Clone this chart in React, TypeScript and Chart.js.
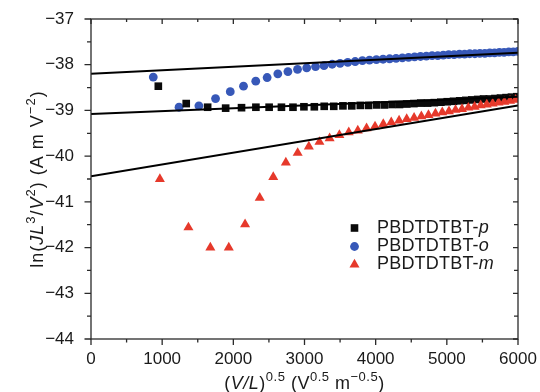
import React, { useEffect, useRef } from 'react';
import { Chart, registerables } from 'chart.js';

Chart.register(...registerables);

const FONT = '"Liberation Sans", Arial, Helvetica, sans-serif';

// PBDTDTBT-p (black squares)
const pX = [946, 1338, 1639, 1892, 2115, 2317, 2503, 2676, 2838, 2992, 3138, 3277, 3411, 3540, 3664, 3784, 3900, 4014, 4124, 4231, 4335, 4437, 4537, 4634, 4730, 4824, 4916, 5006, 5094, 5181, 5267, 5351, 5434, 5516, 5597, 5676, 5754, 5832, 5908, 5983];
const pY = [-38.47, -38.85, -38.93, -38.95, -38.94, -38.93, -38.93, -38.93, -38.93, -38.92, -38.92, -38.91, -38.91, -38.9, -38.9, -38.89, -38.89, -38.88, -38.88, -38.87, -38.87, -38.86, -38.85, -38.84, -38.84, -38.83, -38.82, -38.81, -38.8, -38.79, -38.78, -38.77, -38.76, -38.75, -38.75, -38.74, -38.73, -38.72, -38.71, -38.7];

// PBDTDTBT-o (blue circles)
const oX = [875, 1237, 1516, 1750, 1957, 2143, 2315, 2475, 2625, 2767, 2902, 3031, 3155, 3274, 3389, 3500, 3608, 3712, 3814, 3913, 4010, 4104, 4196, 4287, 4375, 4462, 4547, 4630, 4712, 4793, 4872, 4950, 5026, 5102, 5177, 5250, 5322, 5394, 5464, 5534, 5603, 5671, 5738, 5804, 5870, 5934, 5998];
const oY = [-38.27, -38.93, -38.9, -38.74, -38.59, -38.47, -38.36, -38.28, -38.2, -38.15, -38.1, -38.07, -38.04, -38.02, -37.99, -37.97, -37.95, -37.93, -37.91, -37.9, -37.89, -37.88, -37.87, -37.86, -37.85, -37.84, -37.83, -37.82, -37.81, -37.8, -37.8, -37.79, -37.78, -37.78, -37.77, -37.77, -37.76, -37.76, -37.75, -37.75, -37.74, -37.74, -37.73, -37.73, -37.72, -37.72, -37.71];

// PBDTDTBT-m (red triangles)
const mX = [968, 1369, 1677, 1936, 2165, 2371, 2561, 2738, 2904, 3061, 3210, 3353, 3490, 3622, 3749, 3872, 3991, 4107, 4219, 4329, 4436, 4540, 4642, 4742, 4840, 4936, 5030, 5122, 5213, 5302, 5390, 5476, 5561, 5644, 5727, 5808, 5888, 5967];
const mY = [-40.5, -41.56, -42.0, -42.0, -41.49, -40.91, -40.46, -40.14, -39.93, -39.79, -39.69, -39.61, -39.54, -39.48, -39.44, -39.39, -39.35, -39.3, -39.26, -39.22, -39.19, -39.16, -39.13, -39.1, -39.07, -39.04, -39.02, -38.99, -38.97, -38.94, -38.92, -38.89, -38.87, -38.85, -38.83, -38.81, -38.79, -38.77];

// linear fits
const fitX = [0, 6000];
const fitPY = [-39.08, -38.7];
const fitOY = [-38.2, -37.74];
const fitMY = [-40.44, -38.89];

const seriesNames = ['PBDTDTBT-', 'PBDTDTBT-', 'PBDTDTBT-'];
const seriesSuffix = ['p', 'o', 'm'];
const seriesColors = ['#0a0a0a', '#3758b8', '#e6392b'];
const seriesStyles = ['rect', 'circle', 'triangle'];

const xTicks = [0, 1000, 2000, 3000, 4000, 5000, 6000];
const yTicks = [-44, -43, -42, -41, -40, -39, -38, -37];

const xTitle = [
  { t: '(', s: 'n' }, { t: 'V/L', s: 'i' }, { t: ')', s: 'n' }, { t: '0.5', s: 's' },
  { t: ' (V', s: 'n' }, { t: '0.5', s: 's' }, { t: ' m', s: 'n' }, { t: '\u22120.5', s: 's' }, { t: ')', s: 'n' },
];
const yTitle = [
  { t: 'ln(', s: 'n' }, { t: 'JL', s: 'i' }, { t: '3', s: 's' }, { t: '/', s: 'n' }, { t: 'V', s: 'i' },
  { t: '2', s: 's' }, { t: ') (A m V', s: 'n' }, { t: '\u22122', s: 's' }, { t: ')', s: 'n' },
];

const pts = (xs: number[], ys: number[]) => xs.map((x, i) => ({ x, y: ys[i] }));

function segFont(s: string, size: number) {
  if (s === 'i') return `italic ${size}px ${FONT}`;
  if (s === 's') return `${Math.round(size * 0.72)}px ${FONT}`;
  return `${size}px ${FONT}`;
}

function drawRich(
  ctx: CanvasRenderingContext2D,
  segs: { t: string; s: string }[],
  cx: number,
  by: number,
  size: number,
  spacing: number
) {
  (ctx as any).letterSpacing = `${spacing}px`;
  const widths = segs.map((g) => {
    ctx.font = segFont(g.s, size);
    return ctx.measureText(g.t).width;
  });
  const total = widths.reduce((a, b) => a + b, 0);
  let x = cx - total / 2;
  ctx.textAlign = 'left';
  ctx.textBaseline = 'alphabetic';
  segs.forEach((g, i) => {
    ctx.font = segFont(g.s, size);
    const dy = g.s === 's' ? -size * 0.4 : 0;
    ctx.fillText(g.t, x, by + dy);
    x += widths[i];
  });
  (ctx as any).letterSpacing = '0px';
}

function drawMarker(ctx: CanvasRenderingContext2D, style: string, x: number, y: number, color: string) {
  ctx.fillStyle = color;
  ctx.beginPath();
  if (style === 'rect') {
    ctx.rect(x - 3.8, y - 3.8, 7.6, 7.6);
  } else if (style === 'circle') {
    ctx.arc(x, y, 4.4, 0, Math.PI * 2);
  } else {
    const r = 5.8;
    ctx.moveTo(x, y - r);
    ctx.lineTo(x + r * 0.866, y + r * 0.5);
    ctx.lineTo(x - r * 0.866, y + r * 0.5);
    ctx.closePath();
  }
  ctx.fill();
}

const decorPlugin = {
  id: 'decor',
  afterDraw(chart: any) {
    const { ctx, chartArea: a, scales } = chart;
    const xs = scales.x;
    const ys = scales.y;
    ctx.save();
    // frame
    ctx.strokeStyle = '#2a2a2a';
    ctx.lineWidth = 1.3;
    ctx.strokeRect(a.left, a.top, a.right - a.left, a.bottom - a.top);
    ctx.beginPath();
    for (let i = 0; i < xTicks.length; i++) {
      const vals = [xTicks[i]];
      if (i < xTicks.length - 1) vals.push((xTicks[i] + xTicks[i + 1]) / 2);
      vals.forEach((v, k) => {
        const px = xs.getPixelForValue(v);
        const major = k === 0;
        ctx.moveTo(px, a.bottom);
        ctx.lineTo(px, a.bottom + (major ? 6 : 3.5));
        ctx.moveTo(px, a.top);
        ctx.lineTo(px, a.top + (major ? 5 : 3));
      });
    }
    for (let i = 0; i < yTicks.length; i++) {
      const vals = [yTicks[i]];
      if (i < yTicks.length - 1) vals.push((yTicks[i] + yTicks[i + 1]) / 2);
      vals.forEach((v, k) => {
        const py = ys.getPixelForValue(v);
        const major = k === 0;
        ctx.moveTo(a.left, py);
        ctx.lineTo(a.left - (major ? 6.5 : 4), py);
        ctx.moveTo(a.right, py);
        ctx.lineTo(a.right - (major ? 5 : 4), py);
      });
    }
    ctx.stroke();

    // axis titles
    ctx.fillStyle = '#1a1a1a';
    drawRich(ctx, xTitle, (a.left + a.right) / 2, 388.5, 18, 0.5);
    ctx.save();
    ctx.translate(42.5, (a.top + a.bottom) / 2);
    ctx.rotate(-Math.PI / 2);
    drawRich(ctx, yTitle, 0, 0, 18, 1.0);
    ctx.restore();

    // legend
    const rowsY = [228, 246.5, 264.5];
    seriesNames.forEach((name, i) => {
      drawMarker(ctx, seriesStyles[i], 354.5, rowsY[i], seriesColors[i]);
      ctx.fillStyle = '#1a1a1a';
      ctx.textAlign = 'left';
      ctx.textBaseline = 'alphabetic';
      (ctx as any).letterSpacing = '0.2px';
      ctx.font = `18px ${FONT}`;
      const w = ctx.measureText(name).width;
      ctx.fillText(name, 377, rowsY[i] + 4.5);
      ctx.font = `italic 18px ${FONT}`;
      ctx.fillText(seriesSuffix[i], 377 + w, rowsY[i] + 4.5);
      (ctx as any).letterSpacing = '0px';
    });
    ctx.restore();
  },
};

const zeroPad = (s: any) => {
  s.paddingTop = 0;
  s.paddingBottom = 0;
  s.paddingLeft = 0;
  s.paddingRight = 0;
};

export default function App() {
  const ref = useRef<HTMLCanvasElement | null>(null);
  useEffect(() => {
    if (!ref.current) return;
    const fitLine = (ys: number[]) => ({
      type: 'line' as const,
      data: pts(fitX, ys),
      borderColor: '#000',
      borderWidth: 2,
      pointRadius: 0,
      showLine: true,
      fill: false,
      order: 0,
    });
    const chart = new Chart(ref.current, {
      type: 'scatter',
      data: {
        datasets: [
          {
            label: 'PBDTDTBT-m',
            data: pts(mX, mY),
            pointStyle: 'triangle',
            pointRadius: 5.8,
            backgroundColor: seriesColors[2],
            borderColor: seriesColors[2],
            borderWidth: 0,
            order: 1,
          },
          {
            label: 'PBDTDTBT-p',
            data: pts(pX, pY),
            pointStyle: 'rect',
            pointRadius: 5.4,
            backgroundColor: seriesColors[0],
            borderColor: seriesColors[0],
            borderWidth: 0,
            order: 2,
          },
          {
            label: 'PBDTDTBT-o',
            data: pts(oX, oY),
            pointStyle: 'circle',
            pointRadius: 4.4,
            backgroundColor: seriesColors[1],
            borderColor: seriesColors[1],
            borderWidth: 0,
            order: 3,
          },
          { label: 'fit o', ...fitLine(fitOY) },
          { label: 'fit p', ...fitLine(fitPY) },
          { label: 'fit m', ...fitLine(fitMY) },
        ] as any,
      },
      options: {
        animation: false,
        responsive: false,
        devicePixelRatio: 1,
        layout: { padding: { left: 0, right: 22, top: 19, bottom: 0 } },
        plugins: {
          legend: { display: false },
          tooltip: { enabled: false },
        },
        scales: {
          x: {
            type: 'linear',
            min: 0,
            max: 6000,
            afterBuildTicks: (s: any) => {
              s.ticks = xTicks.map((v) => ({ value: v }));
            },
            afterFit: (s: any) => {
              s.height = 53;
              zeroPad(s);
            },
            grid: { display: false, drawTicks: false },
            border: { display: false },
            ticks: {
              padding: 10,
              color: '#1a1a1a',
              font: { family: FONT, size: 17 },
              maxRotation: 0,
              callback: (v: any) => String(v),
            },
          },
          y: {
            type: 'linear',
            min: -44,
            max: -37,
            afterBuildTicks: (s: any) => {
              s.ticks = yTicks.map((v) => ({ value: v }));
            },
            afterFit: (s: any) => {
              s.width = 91;
              zeroPad(s);
            },
            grid: { display: false, drawTicks: false },
            border: { display: false },
            ticks: {
              padding: 17,
              color: '#1a1a1a',
              font: { family: FONT, size: 17 },
              callback: (v: any) => String(v).replace('-', '\u2212'),
            },
          },
        },
      },
      plugins: [decorPlugin],
    });
    return () => chart.destroy();
  }, []);
  return (
    <div style={{ position: 'absolute', left: 0, top: 0, width: 540, height: 392, background: '#fff' }}>
      <canvas ref={ref} width={540} height={392} style={{ width: 540, height: 392, display: 'block' }} />
    </div>
  );
}
